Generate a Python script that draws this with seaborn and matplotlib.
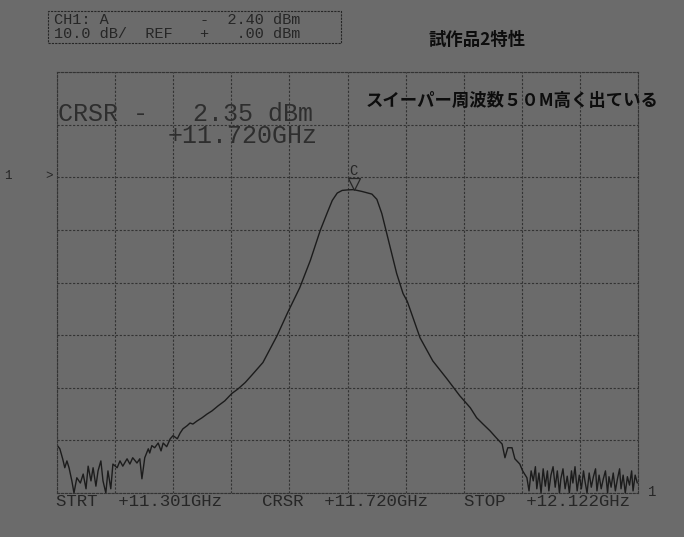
import numpy as np
import pandas as pd
import matplotlib
matplotlib.use("Agg")
import matplotlib.pyplot as plt
import matplotlib.transforms as mtransforms
import seaborn as sns

# ---- analyzer settings ----
start_ghz = 11.301
stop_ghz = 12.122
cursor_ghz = 11.720
cursor_dbm = -2.35
top_dbm = 20.0
bottom_dbm = -60.0
x_divs = 10
y_divs = 8

header_line1 = "CH1: A          -  2.40 dBm"
header_line2 = "10.0 dB/  REF   +   .00 dBm"
title_text = "試作品2特性"
note_text = "スイーパー周波数５０M高く出ている"
cursor_line1 = "CRSR -   2.35 dBm"
cursor_line2 = "+11.720GHz"
bottom_labels = ["STRT  +11.301GHz", "CRSR  +11.720GHz", "STOP  +12.122GHz"]

# ---- trace (frequency in GHz, level in dBm) ----
freq_ghz = [
    11.301, 11.305, 11.309, 11.312, 11.315, 11.318, 11.322, 11.325, 11.329, 11.334,
    11.338, 11.342, 11.345, 11.349, 11.352, 11.356, 11.359, 11.363, 11.366, 11.370,
    11.373, 11.377, 11.380, 11.386, 11.390, 11.394, 11.400, 11.404, 11.408, 11.414,
    11.418, 11.421, 11.425, 11.430, 11.432, 11.435, 11.439, 11.444, 11.448, 11.451,
    11.456, 11.461, 11.465, 11.471, 11.475, 11.479, 11.485, 11.489, 11.493, 11.499,
    11.506, 11.513, 11.520, 11.529, 11.538, 11.548, 11.557, 11.567, 11.577, 11.592,
    11.612, 11.627, 11.644, 11.659, 11.673, 11.683, 11.690, 11.697, 11.704, 11.712,
    11.720, 11.732, 11.746, 11.753, 11.760, 11.767, 11.774, 11.781, 11.790, 11.796,
    11.814, 11.832, 11.852, 11.870, 11.885, 11.894, 11.903, 11.913, 11.923, 11.930,
    11.934, 11.938, 11.944, 11.948, 11.955, 11.959, 11.965,
    11.968, 11.971, 11.974, 11.977, 11.979, 11.982, 11.985, 11.988, 11.991, 11.994,
    11.996, 11.999, 12.002, 12.005, 12.008, 12.011, 12.013, 12.016, 12.019, 12.022,
    12.025, 12.028, 12.030, 12.033, 12.036, 12.039, 12.042, 12.045, 12.047, 12.050,
    12.053, 12.056, 12.059, 12.062, 12.064, 12.067, 12.070, 12.073, 12.076, 12.079,
    12.081, 12.084, 12.087, 12.090, 12.093, 12.096, 12.098, 12.101, 12.104, 12.107,
    12.110, 12.113, 12.115, 12.118, 12.121,
]
level_dbm = [
    -50.9, -51.6, -53.5, -55.2, -53.9, -55.2, -57.7, -60.0, -57.1, -58.1,
    -56.4, -59.2, -54.9, -57.7, -55.2, -58.7, -55.8, -53.9, -57.7, -60.0,
    -55.8, -59.2, -54.5, -55.2, -53.9, -54.9, -53.5, -54.5, -53.3, -54.3,
    -53.5, -57.3, -53.3, -51.6, -52.4, -51.0, -51.4, -50.5, -52.0, -50.5,
    -51.2, -49.7, -49.1, -49.7, -48.6, -47.8, -47.2, -46.7, -46.9, -46.3,
    -45.7, -45.0, -44.4, -43.4, -42.5, -41.1, -40.2, -39.0, -37.5, -35.2,
    -30.1, -25.7, -21.0, -15.8, -10.1, -6.7, -4.4, -3.0, -2.5, -2.4,
    -2.35, -2.7, -3.2, -4.2, -6.9, -10.7, -14.5, -18.3, -22.1, -23.6,
    -30.5, -34.9, -38.3, -41.5, -43.8, -45.7, -46.9, -48.2, -49.7, -50.7,
    -53.3, -51.4, -51.4, -53.5, -54.5, -55.8, -57.1,
    -59.6, -55.8, -57.7, -55.0, -59.2, -56.2, -60.0, -55.4, -58.7, -55.8,
    -59.6, -56.6, -55.0, -58.9, -55.8, -60.0, -57.3, -55.4, -59.2, -56.8,
    -60.0, -55.8, -58.1, -55.0, -59.6, -56.6, -59.2, -55.8, -57.7, -60.0,
    -56.2, -58.9, -56.9, -55.4, -59.6, -56.6, -59.2, -57.3, -55.8, -60.0,
    -56.9, -58.9, -56.2, -59.6, -57.3, -55.4, -59.2, -56.6, -60.0, -56.9,
    -58.5, -55.8, -59.6, -56.6, -58.1,
]

df = pd.DataFrame({"freq": freq_ghz, "level": level_dbm})

BG = "#6b6b6b"
INK = "#262626"
GRID = "#333333"

sns.set_style("white", {"axes.facecolor": BG, "figure.facecolor": BG})
plt.rcParams["font.family"] = ["Liberation Mono", "DejaVu Sans Mono"]

W, H = 684, 537
fig = plt.figure(figsize=(W / 100, H / 100), dpi=100)
fig.patch.set_facecolor(BG)

L, R, T, B = 57, 638, 72, 493
ax = fig.add_axes([L / W, 1 - B / H, (R - L) / W, (B - T) / H])
ax.set_facecolor(BG)

sns.lineplot(data=df, x="freq", y="level", ax=ax, sort=False, estimator=None,
             color="#1c1c1c", linewidth=1.0)

ax.set_xlim(start_ghz, stop_ghz)
ax.set_ylim(bottom_dbm, top_dbm)
ax.set_xticks(np.linspace(start_ghz, stop_ghz, x_divs + 1))
ax.set_yticks(np.linspace(bottom_dbm, top_dbm, y_divs + 1))
ax.set_xticklabels([])
ax.set_yticklabels([])
ax.tick_params(length=0)
ax.set_xlabel("")
ax.set_ylabel("")
ax.grid(True, color=GRID, linestyle=(0, (2, 1.5)), linewidth=0.8)
for s in ax.spines.values():
    s.set_visible(True)
    s.set_color(GRID)
    s.set_linestyle((0, (2, 1.5)))
    s.set_linewidth(0.8)

# cursor marker (triangle + "C") above the cursor point
tri_tr = mtransforms.offset_copy(ax.transData, fig=fig, x=0, y=6, units="dots")
ax.plot([cursor_ghz], [cursor_dbm], marker="v", markersize=8, fillstyle="none",
        markeredgecolor=INK, markeredgewidth=0.9, linestyle="none",
        transform=tri_tr, clip_on=False)
c_tr = mtransforms.offset_copy(ax.transData, fig=fig, x=0, y=19, units="dots")
ax.text(cursor_ghz, cursor_dbm, "C", transform=c_tr, ha="center", va="center",
        fontsize=10, color=INK)


def fx(x):
    return x / W


def fy(y):
    return 1 - y / H


# header box
fig.text(fx(54), fy(20), header_line1, fontsize=11, color=INK, va="center", ha="left")
fig.text(fx(54), fy(34), header_line2, fontsize=11, color=INK, va="center", ha="left")
box = plt.Rectangle((fx(48), fy(43)), fx(341) - fx(48), fy(11) - fy(43),
                    transform=fig.transFigure, fill=False, edgecolor=INK,
                    linestyle=(0, (2, 1)), linewidth=0.8)
fig.add_artist(box)

# Japanese notes
fig.text(fx(429), fy(40), title_text, fontsize=12.5, fontweight="bold", color="#0d0d0d",
         family=["Noto Sans CJK JP", "DejaVu Sans"], va="center", ha="left")
fig.text(fx(366), fy(101), note_text, fontsize=12.5, fontweight="bold", color="#0d0d0d",
         family=["Noto Sans CJK JP", "DejaVu Sans"], va="center", ha="left")

# cursor readout
fig.text(fx(58), fy(114), cursor_line1, fontsize=18, color="#2e2e2e", va="center", ha="left")
fig.text(fx(318), fy(136), cursor_line2, fontsize=18, color="#2e2e2e", va="center", ha="right")

# reference markers
fig.text(fx(8), fy(176), "1", fontsize=9, color=INK, va="center", ha="center")
fig.text(fx(49), fy(176), ">", fontsize=9, color=INK, va="center", ha="center")
fig.text(fx(652), fy(492), "1", fontsize=10, color=INK, va="center", ha="center")

# bottom labels
for xpos, lab in zip([56, 262, 464], bottom_labels):
    fig.text(fx(xpos), fy(502), lab, fontsize=12.5, color=INK, va="center", ha="left")

fig.savefig("out.png", dpi=100, facecolor=BG)
